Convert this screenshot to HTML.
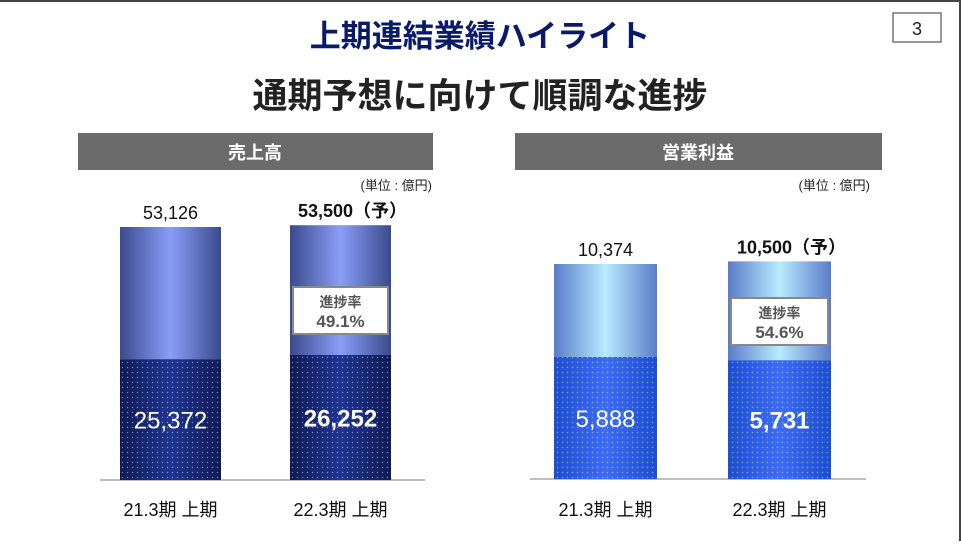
<!DOCTYPE html>
<html><head><meta charset="utf-8"><style>
body{margin:0;background:#fff;}
svg text{font-family:"Liberation Sans","Noto Sans CJK JP",sans-serif;}
</style></head><body>
<svg width="961" height="541" viewBox="0 0 961 541" xmlns="http://www.w3.org/2000/svg">
<defs>
<linearGradient id="gNavyTop" x1="0" x2="1" y1="0" y2="0">
<stop offset="0" stop-color="#3a4a8e"/><stop offset="0.5" stop-color="#8a9ef8"/><stop offset="1" stop-color="#3a4a8e"/></linearGradient>
<linearGradient id="gNavyBot" x1="0" x2="1" y1="0" y2="0">
<stop offset="0" stop-color="#0e1a55"/><stop offset="0.5" stop-color="#1f3490"/><stop offset="1" stop-color="#0e1a55"/></linearGradient>
<linearGradient id="gBlueTop" x1="0" x2="1" y1="0" y2="0">
<stop offset="0" stop-color="#5a7cc8"/><stop offset="0.5" stop-color="#b8ecff"/><stop offset="1" stop-color="#5a7cc8"/></linearGradient>
<linearGradient id="gBlueBot" x1="0" x2="1" y1="0" y2="0">
<stop offset="0" stop-color="#1c4ed0"/><stop offset="0.5" stop-color="#3d6cf2"/><stop offset="1" stop-color="#1c4ed0"/></linearGradient>
<pattern id="dots" width="5" height="5" patternUnits="userSpaceOnUse"><circle cx="2.5" cy="2.5" r="0.7" fill="#ffffff" fill-opacity="0.45"/></pattern>
</defs>
<rect x="0" y="0" width="961" height="2" fill="#444"/>
<rect x="959" y="0" width="2" height="541" fill="#444"/>
<text x="480" y="47" text-anchor="middle" font-size="31" font-weight="bold" fill="#0a1a6a">上期連結業績ハイライト</text>
<rect x="893" y="13" width="48" height="29" fill="#fff" stroke="#777" stroke-width="1.5"/>
<text x="917" y="35" text-anchor="middle" font-size="18" fill="#222">3</text>
<text x="480" y="108" text-anchor="middle" font-size="35" font-weight="bold" fill="#222">通期予想に向けて順調な進捗</text>
<rect x="78" y="133" width="355" height="37" fill="#6b6b6b"/>
<text x="255" y="159" text-anchor="middle" font-size="18" font-weight="bold" fill="#fff">売上高</text>
<rect x="515" y="133" width="367" height="37" fill="#6b6b6b"/>
<text x="698" y="159" text-anchor="middle" font-size="18" font-weight="bold" fill="#fff">営業利益</text>
<text x="432" y="190" text-anchor="end" font-size="13" fill="#222">(単位 : 億円)</text>
<text x="870" y="190" text-anchor="end" font-size="13" fill="#222">(単位 : 億円)</text>
<g id="charts"></g>
</svg>
<script>
const categories = ["21.3期 上期", "22.3期 上期"];
const salesFull = [53126, 53500];
const salesHalf = [25372, 26252];
const salesFullLabels = ["53,126", "53,500"];
const salesHalfLabels = ["25,372", "26,252"];
const salesProgress = ["", "49.1%"];
const opFull = [10374, 10500];
const opHalf = [5888, 5731];
const opFullLabels = ["10,374", "10,500"];
const opHalfLabels = ["5,888", "5,731"];
const opProgress = ["", "54.6%"];

const NS = "http://www.w3.org/2000/svg";
const root = document.getElementById("charts");
function mk(tag, attrs, parent, text){
  const e = document.createElementNS(NS, tag);
  for (const k in attrs) e.setAttribute(k, attrs[k]);
  if (text !== undefined) e.textContent = text;
  (parent || root).appendChild(e);
  return e;
}
function drawChart(cfg){
  const yScale = v => cfg.base - v * cfg.k;
  const ax = mk("line", {x1: cfg.axX0, x2: cfg.axX1, y1: cfg.base, y2: cfg.base, stroke: "#aaa", "stroke-width": 1.5});
  
  
  cfg.full.forEach((v, i) => {
    const x = cfg.xs[i], w = cfg.w;
    const yt = yScale(v), ym = yScale(cfg.half[i]);
    const top = mk("rect", {x: x, y: yt, width: w, height: ym - yt, fill: cfg.topFill});
    
    
    const bot = mk("rect", {x: x, y: ym, width: w, height: cfg.base - ym, fill: cfg.botFill});
    
    
    mk("rect", {x: x, y: ym, width: w, height: cfg.base - ym, fill: "url(#dots)"});
    const hl = mk("text", {x: x + w / 2, y: (ym + cfg.base) / 2 + 9, "text-anchor": "middle", "font-size": 24, "font-weight": i === 1 ? "bold" : "normal", fill: "#fff"}, null, cfg.halfLabels[i]);
    
    
    const fl = mk("text", {x: x + w / 2, y: yt - 8, "text-anchor": "middle", "font-size": 18, "font-weight": i === 1 ? "bold" : "normal", fill: "#111"}, null, cfg.fullLabels[i] + (i === 1 ? "（予）" : ""));
    if (i === 1) fl.setAttribute("x", x + w / 2 + 12);
    
    
    const cl = mk("text", {x: x + w / 2, y: 516, "text-anchor": "middle", "font-size": 18, fill: "#111"}, null, categories[i]);
    
    
    if (cfg.progress[i]) {
      const by = cfg.boxY;
      const b = mk("rect", {x: x + 3, y: by, width: w - 6, height: 47, fill: "#fff", stroke: "#888", "stroke-width": 2});
      
      
      mk("text", {x: x + w / 2, y: by + 20, "text-anchor": "middle", "font-size": 14, "font-weight": "bold", fill: "#555"}, null, "進捗率");
      mk("text", {x: x + w / 2, y: by + 40, "text-anchor": "middle", "font-size": 17, "font-weight": "bold", fill: "#555"}, null, cfg.progress[i]);
    }
  });
}
drawChart({name: "sales", full: salesFull, half: salesHalf, fullLabels: salesFullLabels, halfLabels: salesHalfLabels, progress: salesProgress,
  base: 480, k: 253 / 53126, xs: [120, 290], w: 101, axX0: 100, axX1: 425, topFill: "url(#gNavyTop)", botFill: "url(#gNavyBot)", boxY: 287});
drawChart({name: "op-income", full: opFull, half: opHalf, fullLabels: opFullLabels, halfLabels: opHalfLabels, progress: opProgress,
  base: 479, k: 215 / 10374, xs: [554, 728], w: 103, axX0: 530, axX1: 866, topFill: "url(#gBlueTop)", botFill: "url(#gBlueBot)", boxY: 298});
</script>
</body></html>
